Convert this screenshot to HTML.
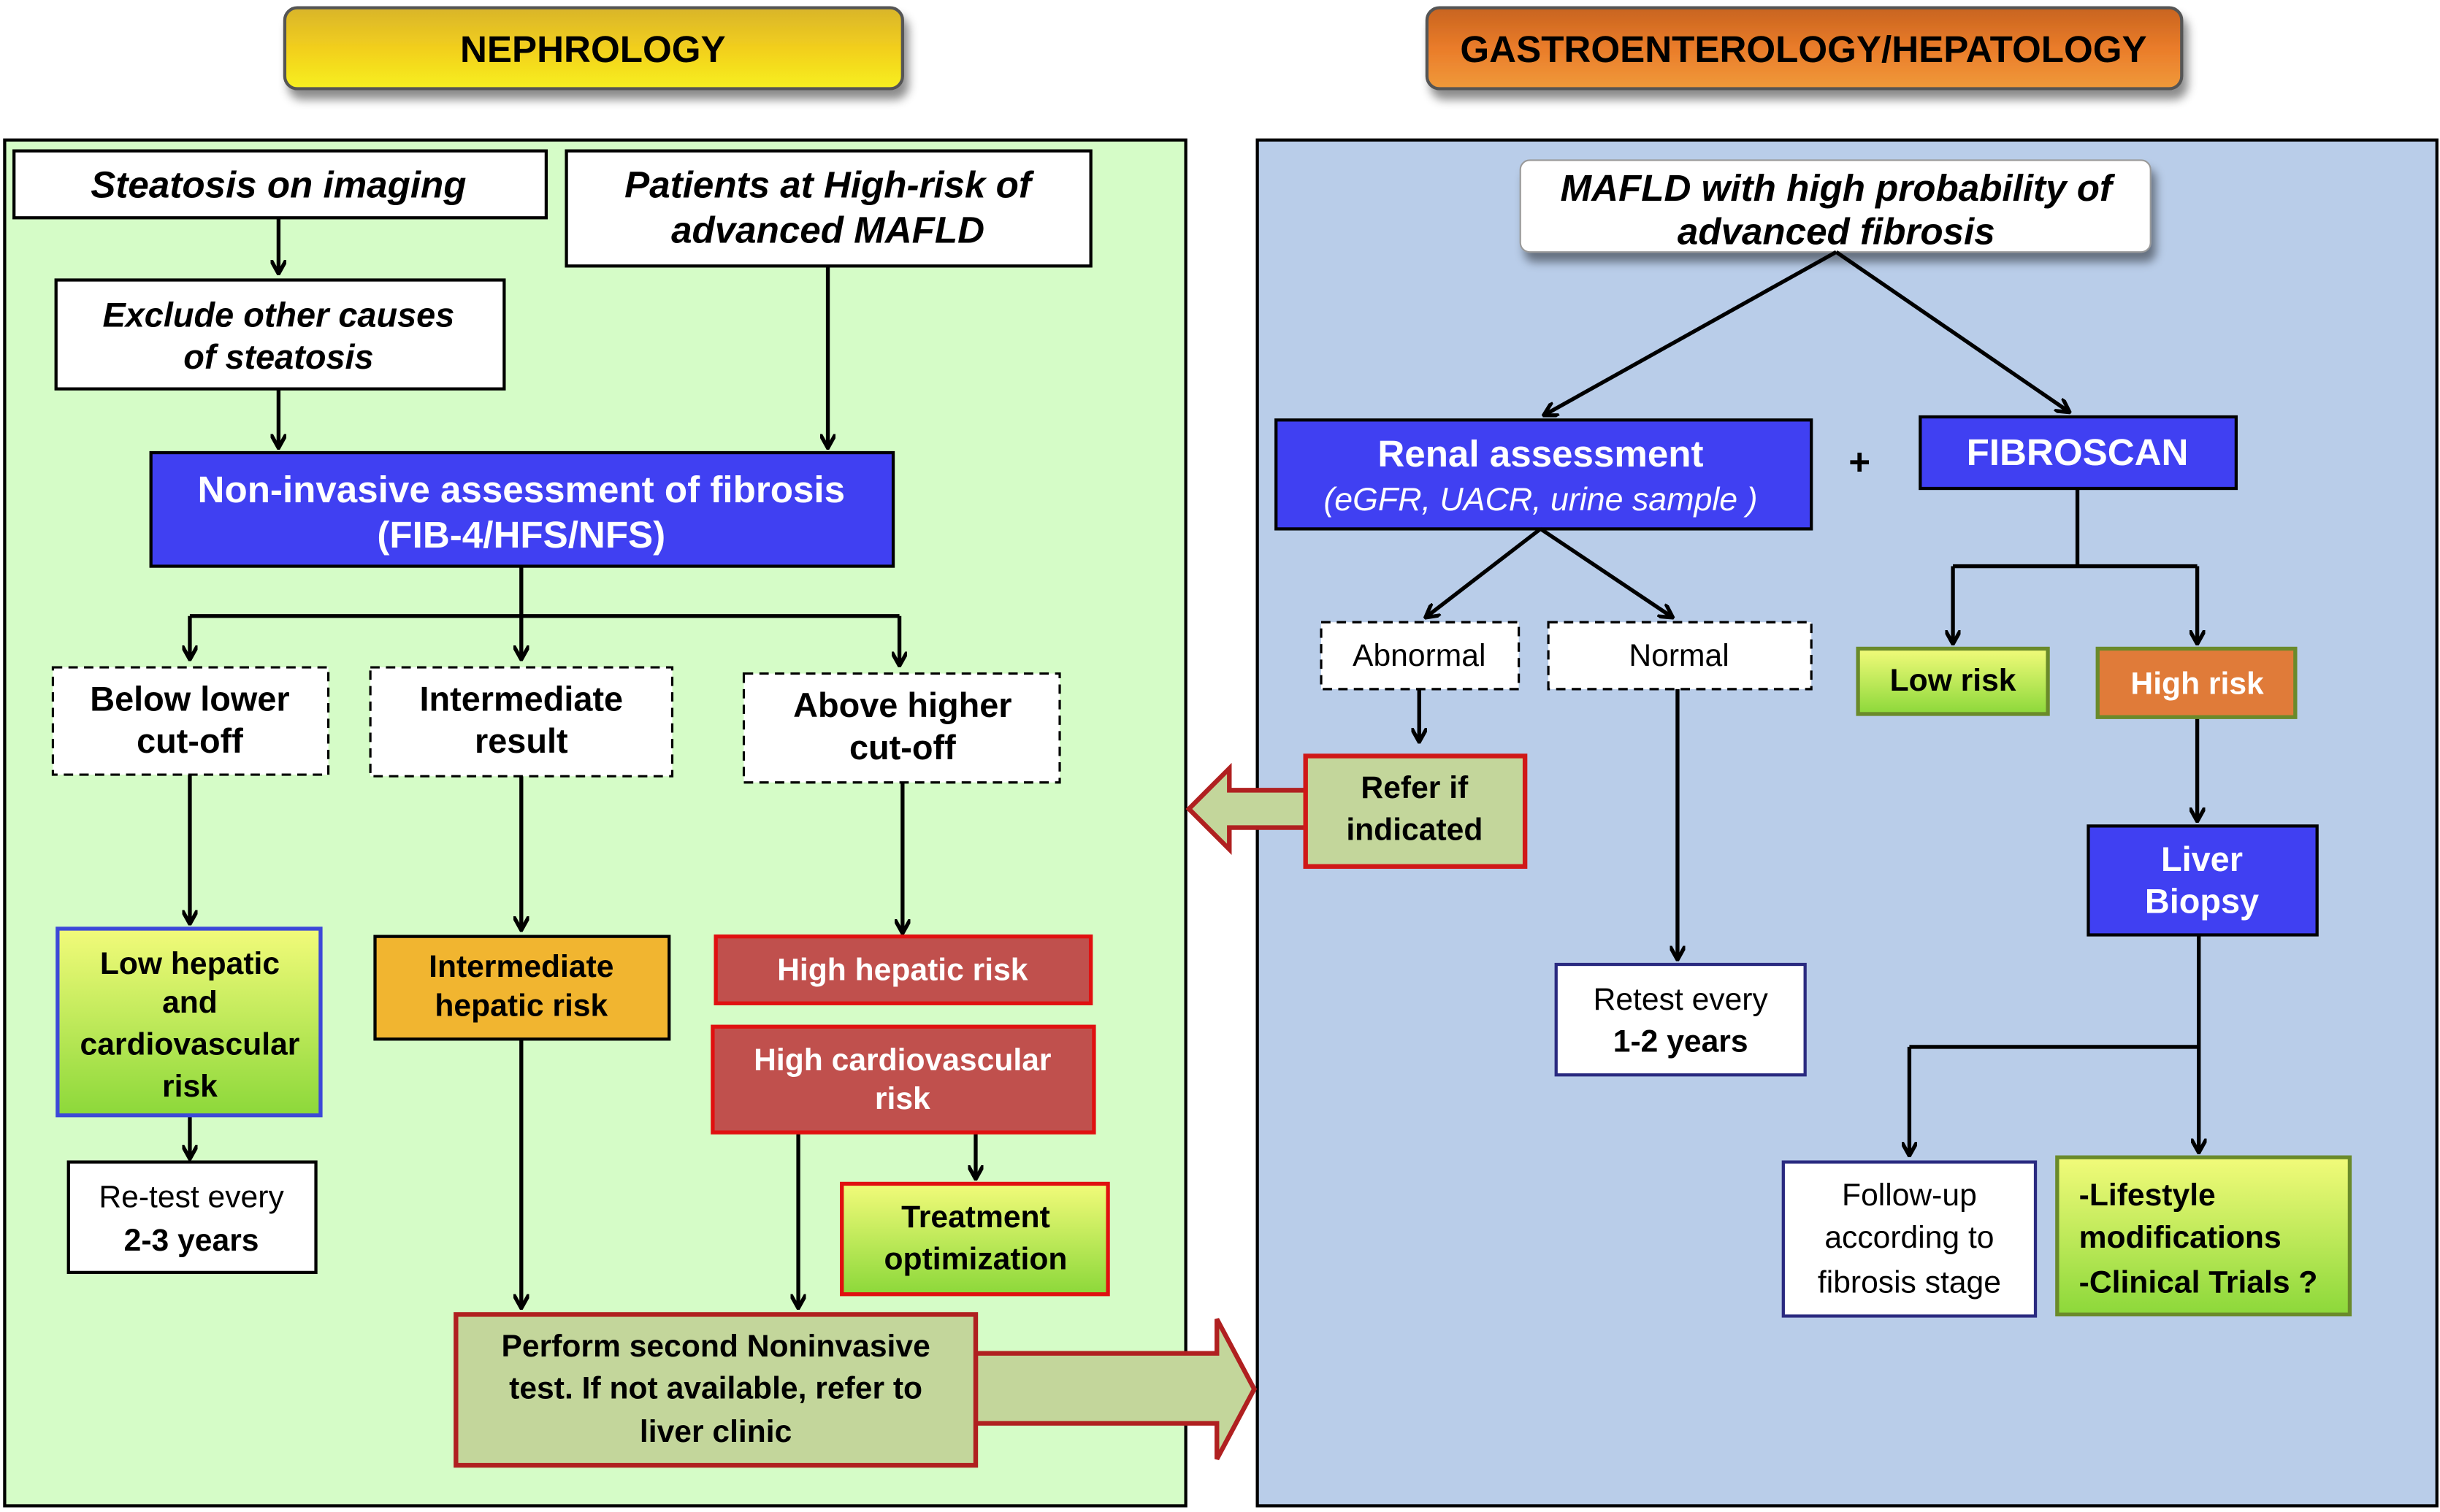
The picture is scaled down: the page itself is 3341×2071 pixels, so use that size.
<!DOCTYPE html>
<html><head><meta charset="utf-8"><style>
html,body{margin:0;padding:0;background:#fff;width:3341px;height:2071px;overflow:hidden}
svg{display:block}
text{font-family:"Liberation Sans",sans-serif;font-weight:bold;text-anchor:middle}
.i{font-style:italic}
.w{fill:#fff}
</style></head><body>
<svg width="3341" height="2071" viewBox="0 0 1568 972" preserveAspectRatio="none" xmlns="http://www.w3.org/2000/svg">
<defs>
<marker id="a" markerWidth="10" markerHeight="10" refX="9" refY="5" orient="auto" markerUnits="userSpaceOnUse" viewBox="0 0 10 10"><path d="M0,0 L9,5 L0,10" fill="none" stroke="#000" stroke-width="2.5"/></marker>
<linearGradient id="gold" x1="0" y1="0" x2="0" y2="1"><stop offset="0" stop-color="#d9b52a"/><stop offset="0.5" stop-color="#f2cf1e"/><stop offset="1" stop-color="#f7f020"/></linearGradient>
<linearGradient id="org" x1="0" y1="0" x2="0" y2="1"><stop offset="0" stop-color="#c8641f"/><stop offset="0.5" stop-color="#ea7c2a"/><stop offset="1" stop-color="#f09a3a"/></linearGradient>
<linearGradient id="gr" x1="0" y1="0" x2="0" y2="1"><stop offset="0" stop-color="#f2fb7a"/><stop offset="1" stop-color="#8cd83a"/></linearGradient>
<filter id="sh" x="-10%" y="-30%" width="120%" height="170%"><feDropShadow dx="3" dy="6" stdDeviation="3" flood-color="#000" flood-opacity="0.45"/></filter>
</defs>
<rect x="183" y="5" width="397" height="52" rx="8" fill="url(#gold)" stroke="#555" stroke-width="2" filter="url(#sh)"/>
<text x="381" y="40" font-size="24">NEPHROLOGY</text>
<rect x="917" y="5" width="485" height="52" rx="8" fill="url(#org)" stroke="#555" stroke-width="2" filter="url(#sh)"/>
<text x="1159" y="40" font-size="24">GASTROENTEROLOGY/HEPATOLOGY</text>

<rect x="3" y="90" width="759" height="878" fill="#d5fcc7" stroke="#000" stroke-width="2"/>
<rect x="808" y="90" width="758" height="878" fill="#b9cde9" stroke="#000" stroke-width="2"/>

<g stroke="#000" stroke-width="2" fill="#fff">
<rect x="9" y="97" width="342" height="43"/>
<rect x="364" y="97" width="337" height="74"/>
<rect x="36" y="180" width="288" height="70"/>
<rect x="44" y="747" width="159" height="71"/>
</g>
<text class="i" x="179" y="127" font-size="24">Steatosis on imaging</text>
<text class="i" x="532" y="127" font-size="24">Patients at High-risk of</text>
<text class="i" x="532" y="156" font-size="24">advanced MAFLD</text>
<text class="i" x="179" y="210" font-size="22">Exclude other causes</text>
<text class="i" x="179" y="237" font-size="22">of steatosis</text>

<rect x="97" y="291" width="477" height="73" fill="#4040f2" stroke="#000" stroke-width="2"/>
<text class="w" x="335" y="323" font-size="24">Non-invasive assessment of fibrosis</text>
<text class="w" x="335" y="352" font-size="24">(FIB-4/HFS/NFS)</text>

<g stroke="#000" stroke-width="2.5" fill="none">
<line x1="179" y1="140" x2="179" y2="176" marker-end="url(#a)"/>
<line x1="179" y1="250" x2="179" y2="288" marker-end="url(#a)"/>
<line x1="532" y1="171" x2="532" y2="288" marker-end="url(#a)"/>
<polyline points="335,364 335,396"/>
<line x1="122" y1="396" x2="578" y2="396"/>
<line x1="122" y1="396" x2="122" y2="424" marker-end="url(#a)"/>
<line x1="335" y1="396" x2="335" y2="424" marker-end="url(#a)"/>
<line x1="578" y1="396" x2="578" y2="428" marker-end="url(#a)"/>
<line x1="122" y1="498" x2="122" y2="594" marker-end="url(#a)"/>
<line x1="335" y1="499" x2="335" y2="598" marker-end="url(#a)"/>
<line x1="580" y1="503" x2="580" y2="600" marker-end="url(#a)"/>
<line x1="122" y1="717" x2="122" y2="745" marker-end="url(#a)"/>
<line x1="627" y1="728" x2="627" y2="758" marker-end="url(#a)"/>
<line x1="335" y1="668" x2="335" y2="841" marker-end="url(#a)"/>
<line x1="513" y1="728" x2="513" y2="841" marker-end="url(#a)"/>
</g>

<g stroke="#000" stroke-width="1.5" fill="#fff" stroke-dasharray="6,4">
<rect x="34" y="429" width="177" height="69"/>
<rect x="238" y="429" width="194" height="70"/>
<rect x="478" y="433" width="203" height="70"/>
<rect x="849" y="400" width="127" height="43"/>
<rect x="995" y="400" width="169" height="43"/>
</g>
<text x="122" y="457" font-size="22">Below lower</text>
<text x="122" y="484" font-size="22">cut-off</text>
<text x="335" y="457" font-size="22">Intermediate</text>
<text x="335" y="484" font-size="22">result</text>
<text x="580" y="461" font-size="22">Above higher</text>
<text x="580" y="488" font-size="22">cut-off</text>

<rect x="37" y="597" width="169" height="120" fill="url(#gr)" stroke="#3c48d8" stroke-width="2.5"/>
<text x="122" y="626" font-size="20">Low hepatic</text>
<text x="122" y="651" font-size="20">and</text>
<text x="122" y="678" font-size="20">cardiovascular</text>
<text x="122" y="705" font-size="20">risk</text>
<text x="123" y="776" font-size="20" font-weight="normal" style="font-weight:normal">Re-test every</text>
<text x="123" y="804" font-size="20">2-3 years</text>

<rect x="241" y="602" width="189" height="66" fill="#f1b530" stroke="#000" stroke-width="2"/>
<text x="335" y="628" font-size="20">Intermediate</text>
<text x="335" y="653" font-size="20">hepatic risk</text>

<rect x="460" y="602" width="241" height="43" fill="#c0504d" stroke="#e01010" stroke-width="2.5"/>
<text class="w" x="580" y="630" font-size="20">High hepatic risk</text>
<rect x="458" y="660" width="245" height="68" fill="#c0504d" stroke="#e01010" stroke-width="2.5"/>
<text class="w" x="580" y="688" font-size="20">High cardiovascular</text>
<text class="w" x="580" y="713" font-size="20">risk</text>

<rect x="541" y="761" width="171" height="71" fill="url(#gr)" stroke="#e01010" stroke-width="2.5"/>
<text x="627" y="789" font-size="20">Treatment</text>
<text x="627" y="816" font-size="20">optimization</text>

<path d="M627,870 L782,870 L782,848 L806,893 L782,938 L782,915 L627,915 Z" fill="#c3d69b" stroke="#b02020" stroke-width="3"/>
<rect x="293" y="845" width="334" height="97" fill="#c3d69b" stroke="#b02020" stroke-width="3"/>
<text x="460" y="872" font-size="20">Perform second Noninvasive</text>
<text x="460" y="899" font-size="20">test. If not available, refer to</text>
<text x="460" y="927" font-size="20">liver clinic</text>

<path d="M839,508 L790,508 L790,494 L764,520 L790,546 L790,532 L839,532" fill="#c3d69b" stroke="#b02020" stroke-width="3"/>
<rect x="839" y="486" width="141" height="71" fill="#c3d69b" stroke="#d01818" stroke-width="3"/>
<text x="909" y="513" font-size="20">Refer if</text>
<text x="909" y="540" font-size="20">indicated</text>

<rect x="977" y="103" width="405" height="59" rx="6" fill="#fff" stroke="#999" stroke-width="1" filter="url(#sh)"/>
<text class="i" x="1180" y="129" font-size="24">MAFLD with high probability of</text>
<text class="i" x="1180" y="157" font-size="24">advanced fibrosis</text>

<rect x="820" y="270" width="344" height="70" fill="#4040f2" stroke="#000" stroke-width="2"/>
<text class="w" x="990" y="300" font-size="24">Renal assessment</text>
<text class="w i" x="990" y="328" font-size="21" style="font-weight:normal">(eGFR, UACR, urine sample )</text>
<text x="1195" y="305" font-size="24">+</text>
<rect x="1234" y="268" width="203" height="46" fill="#4040f2" stroke="#000" stroke-width="2"/>
<text class="w" x="1335" y="299" font-size="24">FIBROSCAN</text>

<g stroke="#000" stroke-width="2.5" fill="none">
<line x1="1180" y1="162" x2="992" y2="267" marker-end="url(#a)"/>
<line x1="1180" y1="162" x2="1330" y2="265" marker-end="url(#a)"/>
<line x1="990" y1="340" x2="916" y2="397" marker-end="url(#a)"/>
<line x1="990" y1="340" x2="1075" y2="397" marker-end="url(#a)"/>
<line x1="912" y1="443" x2="912" y2="477" marker-end="url(#a)"/>
<line x1="1078" y1="443" x2="1078" y2="617" marker-end="url(#a)"/>
<line x1="1335" y1="314" x2="1335" y2="364"/>
<line x1="1255" y1="364" x2="1412" y2="364"/>
<line x1="1255" y1="364" x2="1255" y2="414" marker-end="url(#a)"/>
<line x1="1412" y1="364" x2="1412" y2="414" marker-end="url(#a)"/>
<line x1="1412" y1="461" x2="1412" y2="528" marker-end="url(#a)"/>
<line x1="1413" y1="601" x2="1413" y2="741" marker-end="url(#a)"/>
<line x1="1227" y1="673" x2="1413" y2="673"/>
<line x1="1227" y1="673" x2="1227" y2="743" marker-end="url(#a)"/>
</g>
<text x="912" y="428" font-size="20" style="font-weight:normal">Abnormal</text>
<text x="1079" y="428" font-size="20" style="font-weight:normal">Normal</text>

<rect x="1000" y="620" width="160" height="71" fill="#fff" stroke="#2a2a80" stroke-width="2"/>
<text x="1080" y="649" font-size="20" style="font-weight:normal">Retest every</text>
<text x="1080" y="676" font-size="20">1-2 years</text>

<rect x="1194" y="417" width="122" height="42" fill="url(#gr)" stroke="#6a8a2a" stroke-width="2.5"/>
<text x="1255" y="444" font-size="20">Low risk</text>
<rect x="1348" y="417" width="127" height="44" fill="#e07b39" stroke="#6a8a2a" stroke-width="2.5"/>
<text class="w" x="1412" y="446" font-size="20">High risk</text>

<rect x="1342" y="531" width="147" height="70" fill="#4040f2" stroke="#000" stroke-width="2"/>
<text class="w" x="1415" y="560" font-size="22">Liver</text>
<text class="w" x="1415" y="587" font-size="22">Biopsy</text>

<rect x="1146" y="747" width="162" height="99" fill="#fff" stroke="#2a2a80" stroke-width="2"/>
<text x="1227" y="775" font-size="20" style="font-weight:normal">Follow-up</text>
<text x="1227" y="802" font-size="20" style="font-weight:normal">according to</text>
<text x="1227" y="831" font-size="20" style="font-weight:normal">fibrosis stage</text>

<rect x="1322" y="744" width="188" height="101" fill="url(#gr)" stroke="#6a8a2a" stroke-width="2.5"/>
<text x="1336" y="775" font-size="20" style="text-anchor:start">-Lifestyle</text>
<text x="1336" y="802" font-size="20" style="text-anchor:start">modifications</text>
<text x="1336" y="831" font-size="20" style="text-anchor:start">-Clinical Trials ?</text>
</svg>
</body></html>
